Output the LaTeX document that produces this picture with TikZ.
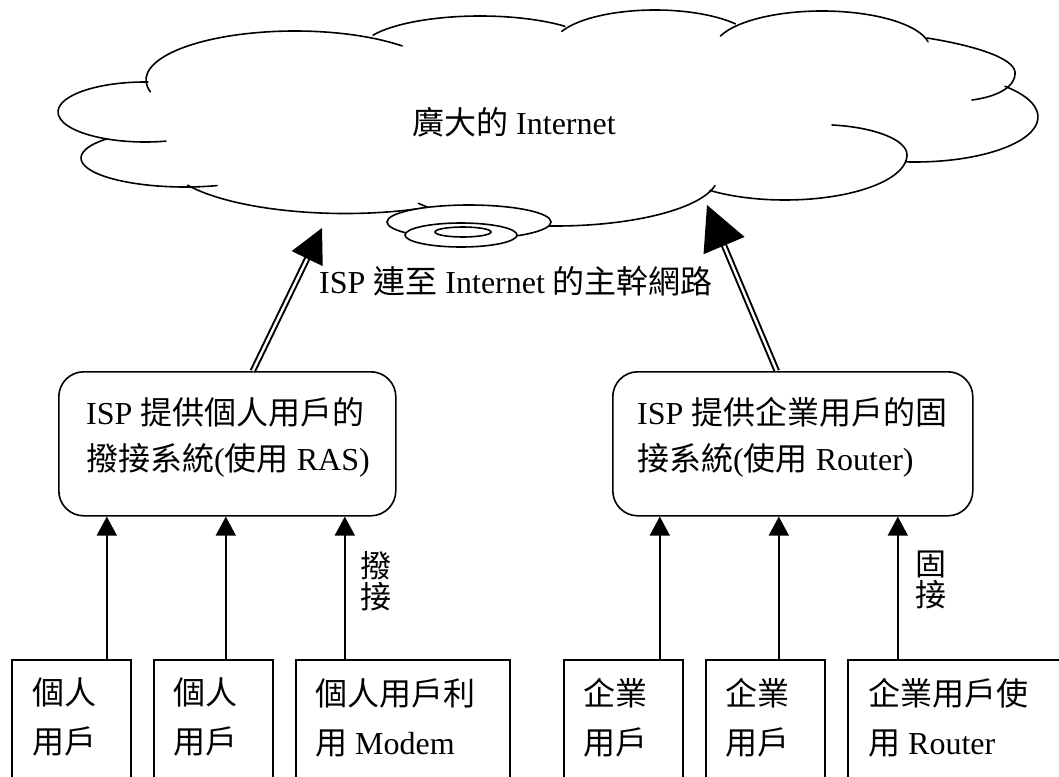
\documentclass[tikz,border=0pt]{standalone}
\usepackage{fontspec}
\setmainfont{Liberation Serif}
\newfontfamily\cjkfont{Noto Sans CJK TC}
\newcommand\zh[1]{{\cjkfont #1}}
\usetikzlibrary{arrows.meta}
\begin{document}
\begin{tikzpicture}[x=1pt, y=-1pt,
  lobe/.style={line width=1.6pt, line cap=round},
  ispbox/.style={draw, line width=1.6pt, rounded corners=25pt, minimum height=144pt,
    anchor=north west, inner sep=0pt},
  userbox/.style={draw, line width=1.6pt, minimum height=170pt, anchor=north west, inner sep=0pt},
  txt/.style={inner sep=0pt, align=left, font=\fontsize{32}{46}\selectfont},
  usertxt/.style={txt, font=\fontsize{32}{49}\selectfont, anchor=north west},
  sidetxt/.style={txt, font=\fontsize{31}{31}\selectfont, anchor=north west},
  smallarrow/.style={line width=1.6pt, -{Triangle[length=19pt, width=20pt]}},
  backbone/.style={double, double distance=2.4pt, line width=2pt},
]
\useasboundingbox (0,0) rectangle (1059,776);
\clip (0,0) rectangle (1059,776);

% ---- the Internet cloud: one elliptic arc per lobe (angles run clockwise on the page) ----
% top-left lobe
\draw[lobe] ([shift={(166:149 and 49)}]295,80) arc[start angle=166, end angle=316, x radius=149, y radius=49];
% left upper lobe
\draw[lobe] ([shift={(272:87 and 30)}]145,112) arc[start angle=272, end angle=76, x radius=87, y radius=30];
% left lower lobe
\draw[lobe] ([shift={(221:104 and 29)}]185,158) arc[start angle=221, end angle=72, x radius=104, y radius=29];
% bottom-left lobe
\draw[lobe] ([shift={(151:180 and 55)}]345,158.5) arc[start angle=151, end angle=63, x radius=180, y radius=55];
% bottom-middle lobe (runs behind the rings)
\draw[lobe] ([shift={(147:163 and 50)}]555,176) arc[start angle=147, end angle=11, x radius=163, y radius=50];
% bottom-right lobe with its inner hook
\draw[lobe] ([shift={(128:122 and 45)}]785,155) arc[start angle=128, end angle=0, x radius=122, y radius=45]
  .. controls (907,139) and (872,127) .. (832,125);
% right lower lobe
\draw[lobe] ([shift={(317:123 and 45)}]915,117) arc[start angle=317, end angle=454, x radius=123, y radius=45];
% right upper lobe
\draw[lobe] (927,38) .. controls (965,44) and (1013,56) .. (1015,72)
  .. controls (1016,88) and (995,97) .. (972,100);
% top-right lobe
\draw[lobe] ([shift={(200:108 and 38)}]822,49) arc[start angle=200, end angle=349, x radius=108, y radius=38];
% top-middle lobe
\draw[lobe] ([shift={(204:102 and 36)}]655,46) arc[start angle=204, end angle=322, x radius=102, y radius=36];
% top lobe
\draw[lobe] ([shift={(207:120 and 35)}]480,51) arc[start angle=207, end angle=315, x radius=120, y radius=35];

% backbone access point (stacked rings)
\draw[lobe, fill=white] (469,222) ellipse [x radius=82, y radius=17];
\draw[lobe, fill=white] (461,235) ellipse [x radius=56, y radius=12];
\draw[lobe] (463,232) ellipse [x radius=28, y radius=5];

\node[txt, anchor=base west] (net) at (412,134) {\zh{廣大的} Internet};
\node[txt, anchor=base west] (bblabel) at (319,293) {ISP \zh{連至} Internet \zh{的主幹網路}};

% ---- ISP access systems ----
\node[ispbox, minimum width=337pt] (isp1) at (58,371) {};
\node[ispbox, minimum width=360pt] (isp2) at (612,371) {};
\node[txt, anchor=north west] (isp1txt) at (86,397) {ISP \zh{提供個人用戶的}\\\zh{撥接系統}(\zh{使用} RAS)};
\node[txt, anchor=north west] (isp2txt) at (637,397) {ISP \zh{提供企業用戶的固}\\\zh{接系統}(\zh{使用} Router)};

% backbone links into the cloud
\coordinate (tipL) at (322,228);
\coordinate (tipR) at (707,205);
\draw[backbone, -{Triangle[length=34pt, width=34pt]}] ([xshift=25.5pt]isp1.north) -- (tipL);
\draw[backbone, -{Triangle[length=44pt, width=44pt]}] ([xshift=-16pt]isp2.north) -- (tipR);

% ---- subscribers ----
\node[userbox, minimum width=119pt] (u1) at (11,659) {};
\node[userbox, minimum width=119pt] (u2) at (153,659) {};
\node[userbox, minimum width=214pt] (u3) at (295,659) {};
\node[userbox, minimum width=119pt] (u4) at (563,659) {};
\node[userbox, minimum width=119pt] (u5) at (705,659) {};
\node[userbox, minimum width=250pt] (u6) at (847,659) {};

\node[usertxt] (u1txt) at (32,678) {\zh{個人}\\\zh{用戶}};
\node[usertxt] (u2txt) at (173,678) {\zh{個人}\\\zh{用戶}};
\node[usertxt] (u3txt) at (315,678) {\zh{個人用戶利}\\\zh{用} Modem};
\node[usertxt] (u4txt) at (583,678) {\zh{企業}\\\zh{用戶}};
\node[usertxt] (u5txt) at (725,678) {\zh{企業}\\\zh{用戶}};
\node[usertxt] (u6txt) at (868,678) {\zh{企業用戶使}\\\zh{用} Router};

% uplinks from subscribers
\coordinate (a1) at ([xshift=35.5pt]u1.north);
\coordinate (a2) at ([xshift=12.5pt]u2.north);
\coordinate (a3) at ([xshift=-58pt]u3.north);
\coordinate (a4) at ([xshift=36.5pt]u4.north);
\coordinate (a5) at ([xshift=13.5pt]u5.north);
\coordinate (a6) at ([xshift=-75pt]u6.north);
\draw[smallarrow] (a1) -- (a1 |- isp1.south);
\draw[smallarrow] (a2) -- (a2 |- isp1.south);
\draw[smallarrow] (a3) -- (a3 |- isp1.south);
\draw[smallarrow] (a4) -- (a4 |- isp2.south);
\draw[smallarrow] (a5) -- (a5 |- isp2.south);
\draw[smallarrow] (a6) -- (a6 |- isp2.south);

\node[sidetxt] (dial) at (360,551) {\zh{撥}\\\zh{接}};
\node[sidetxt] (fixed) at (915,551) {\zh{固}\\\zh{接}};
\end{tikzpicture}
\end{document}
